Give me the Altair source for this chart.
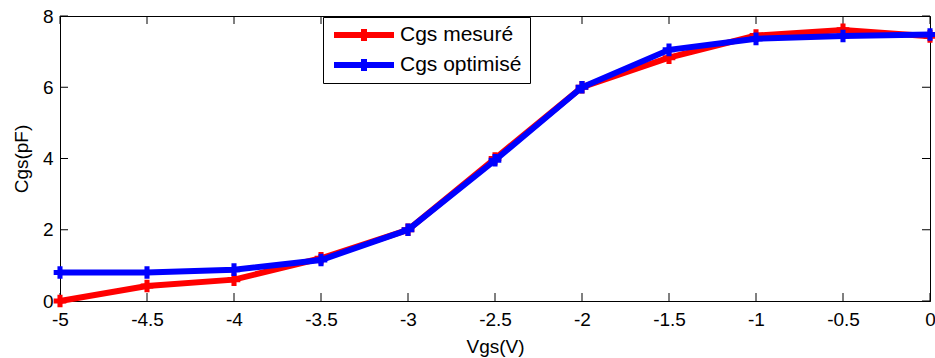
import altair as alt
import pandas as pd

# Gate-source voltage sweep (V)
vgs = [-5, -4.5, -4, -3.5, -3, -2.5, -2, -1.5, -1, -0.5, 0]
# Gate-source capacitance (pF)
cgs_mesure = [0.0, 0.42, 0.6, 1.2, 2.0, 4.0, 6.0, 6.83, 7.45, 7.61, 7.43]
cgs_optimise = [0.8, 0.8, 0.88, 1.15, 2.0, 3.95, 6.0, 7.05, 7.36, 7.44, 7.48]

series_names = ["Cgs mesuré", "Cgs optimisé"]
series_colors = ["#ff0000", "#0000ff"]

x_ticks = [-5, -4.5, -4, -3.5, -3, -2.5, -2, -1.5, -1, -0.5, 0]
y_ticks = [0, 2, 4, 6, 8]

W, H = 870, 285
FONT = "Liberation Sans"
FS = 19
TICK = 8

df_mes = pd.DataFrame({"Vgs": vgs, "Cgs": cgs_mesure, "serie": series_names[0]})
df_opt = pd.DataFrame({"Vgs": vgs, "Cgs": cgs_optimise, "serie": series_names[1]})
df_xt = pd.DataFrame({"v": x_ticks})
df_yt = pd.DataFrame({"v": y_ticks})

label_expr = "replace(format(datum.value, '~g'), '\u2212', '-')"

x_scale = alt.Scale(domain=[-5, 0], nice=False, zero=False)
y_scale = alt.Scale(domain=[0, 8], nice=False)

x_enc = alt.X(
    "Vgs:Q", scale=x_scale,
    axis=alt.Axis(title="Vgs(V)", values=x_ticks, labelExpr=label_expr,
                  labelFlush=False, labelPadding=9, titlePadding=8),
)
y_enc = alt.Y(
    "Cgs:Q", scale=y_scale,
    axis=alt.Axis(title="Cgs(pF)", values=y_ticks, labelExpr=label_expr,
                  labelFlush=False, labelPadding=7, titlePadding=11),
)

# Legend glyph: a long line segment with a "+" marker in its middle
# (path units are scaled by sqrt(symbolSize) / 2 = 10 px)
legend_glyph = "M-1,0H5M2,-0.6V0.6"

color_enc = alt.Color(
    "serie:N",
    scale=alt.Scale(domain=series_names, range=series_colors),
    legend=alt.Legend(
        title=None, orient="none", legendX=263, legendY=1,
        symbolType=legend_glyph, symbolSize=400, symbolStrokeWidth=6,
        symbolFillColor="transparent",
        labelFont=FONT, labelFontSize=21, labelColor="black", labelOffset=43,
        fillColor="white", strokeColor="black", padding=8, rowPadding=9,
        clipHeight=20, cornerRadius=0,
    ),
)


def series_layers(df, color):
    line = alt.Chart(df).mark_line(strokeWidth=6).encode(
        x=x_enc, y=y_enc, color=color_enc
    )
    pts = alt.Chart(df).mark_point(
        shape="cross", filled=True, size=160, opacity=1
    ).encode(x="Vgs:Q", y="Cgs:Q", color=alt.value(color))
    return [line, pts]


# Inward tick marks on all four sides of the box
tick_bottom = alt.Chart(df_xt).mark_rule(color="black", strokeWidth=1).encode(
    x=alt.X("v:Q", scale=x_scale), y=alt.value(H), y2=alt.value(H - TICK)
)
tick_top = alt.Chart(df_xt).mark_rule(color="black", strokeWidth=1).encode(
    x=alt.X("v:Q", scale=x_scale), y=alt.value(0), y2=alt.value(TICK)
)
tick_left = alt.Chart(df_yt).mark_rule(color="black", strokeWidth=1).encode(
    y=alt.Y("v:Q", scale=y_scale), x=alt.value(0), x2=alt.value(TICK)
)
tick_right = alt.Chart(df_yt).mark_rule(color="black", strokeWidth=1).encode(
    y=alt.Y("v:Q", scale=y_scale), x=alt.value(W), x2=alt.value(W - TICK)
)

layers = [tick_bottom, tick_top, tick_left, tick_right]
layers += series_layers(df_mes, series_colors[0])
layers += series_layers(df_opt, series_colors[1])

chart = alt.layer(*layers).properties(
    width=W, height=H,
    autosize=alt.AutoSizeParams(type="none"),
    padding={"left": 60, "top": 16, "right": 5, "bottom": 57},
    background="white",
).configure_view(
    stroke="black", strokeWidth=1
).configure_axis(
    grid=False, ticks=False, domainColor="black", domainWidth=1,
    labelFont=FONT, labelFontSize=FS, labelColor="black",
    titleFont=FONT, titleFontSize=FS, titleColor="black", titleFontWeight="normal",
)

chart.save("out.html", embed_options={"renderer": "svg", "actions": False})
